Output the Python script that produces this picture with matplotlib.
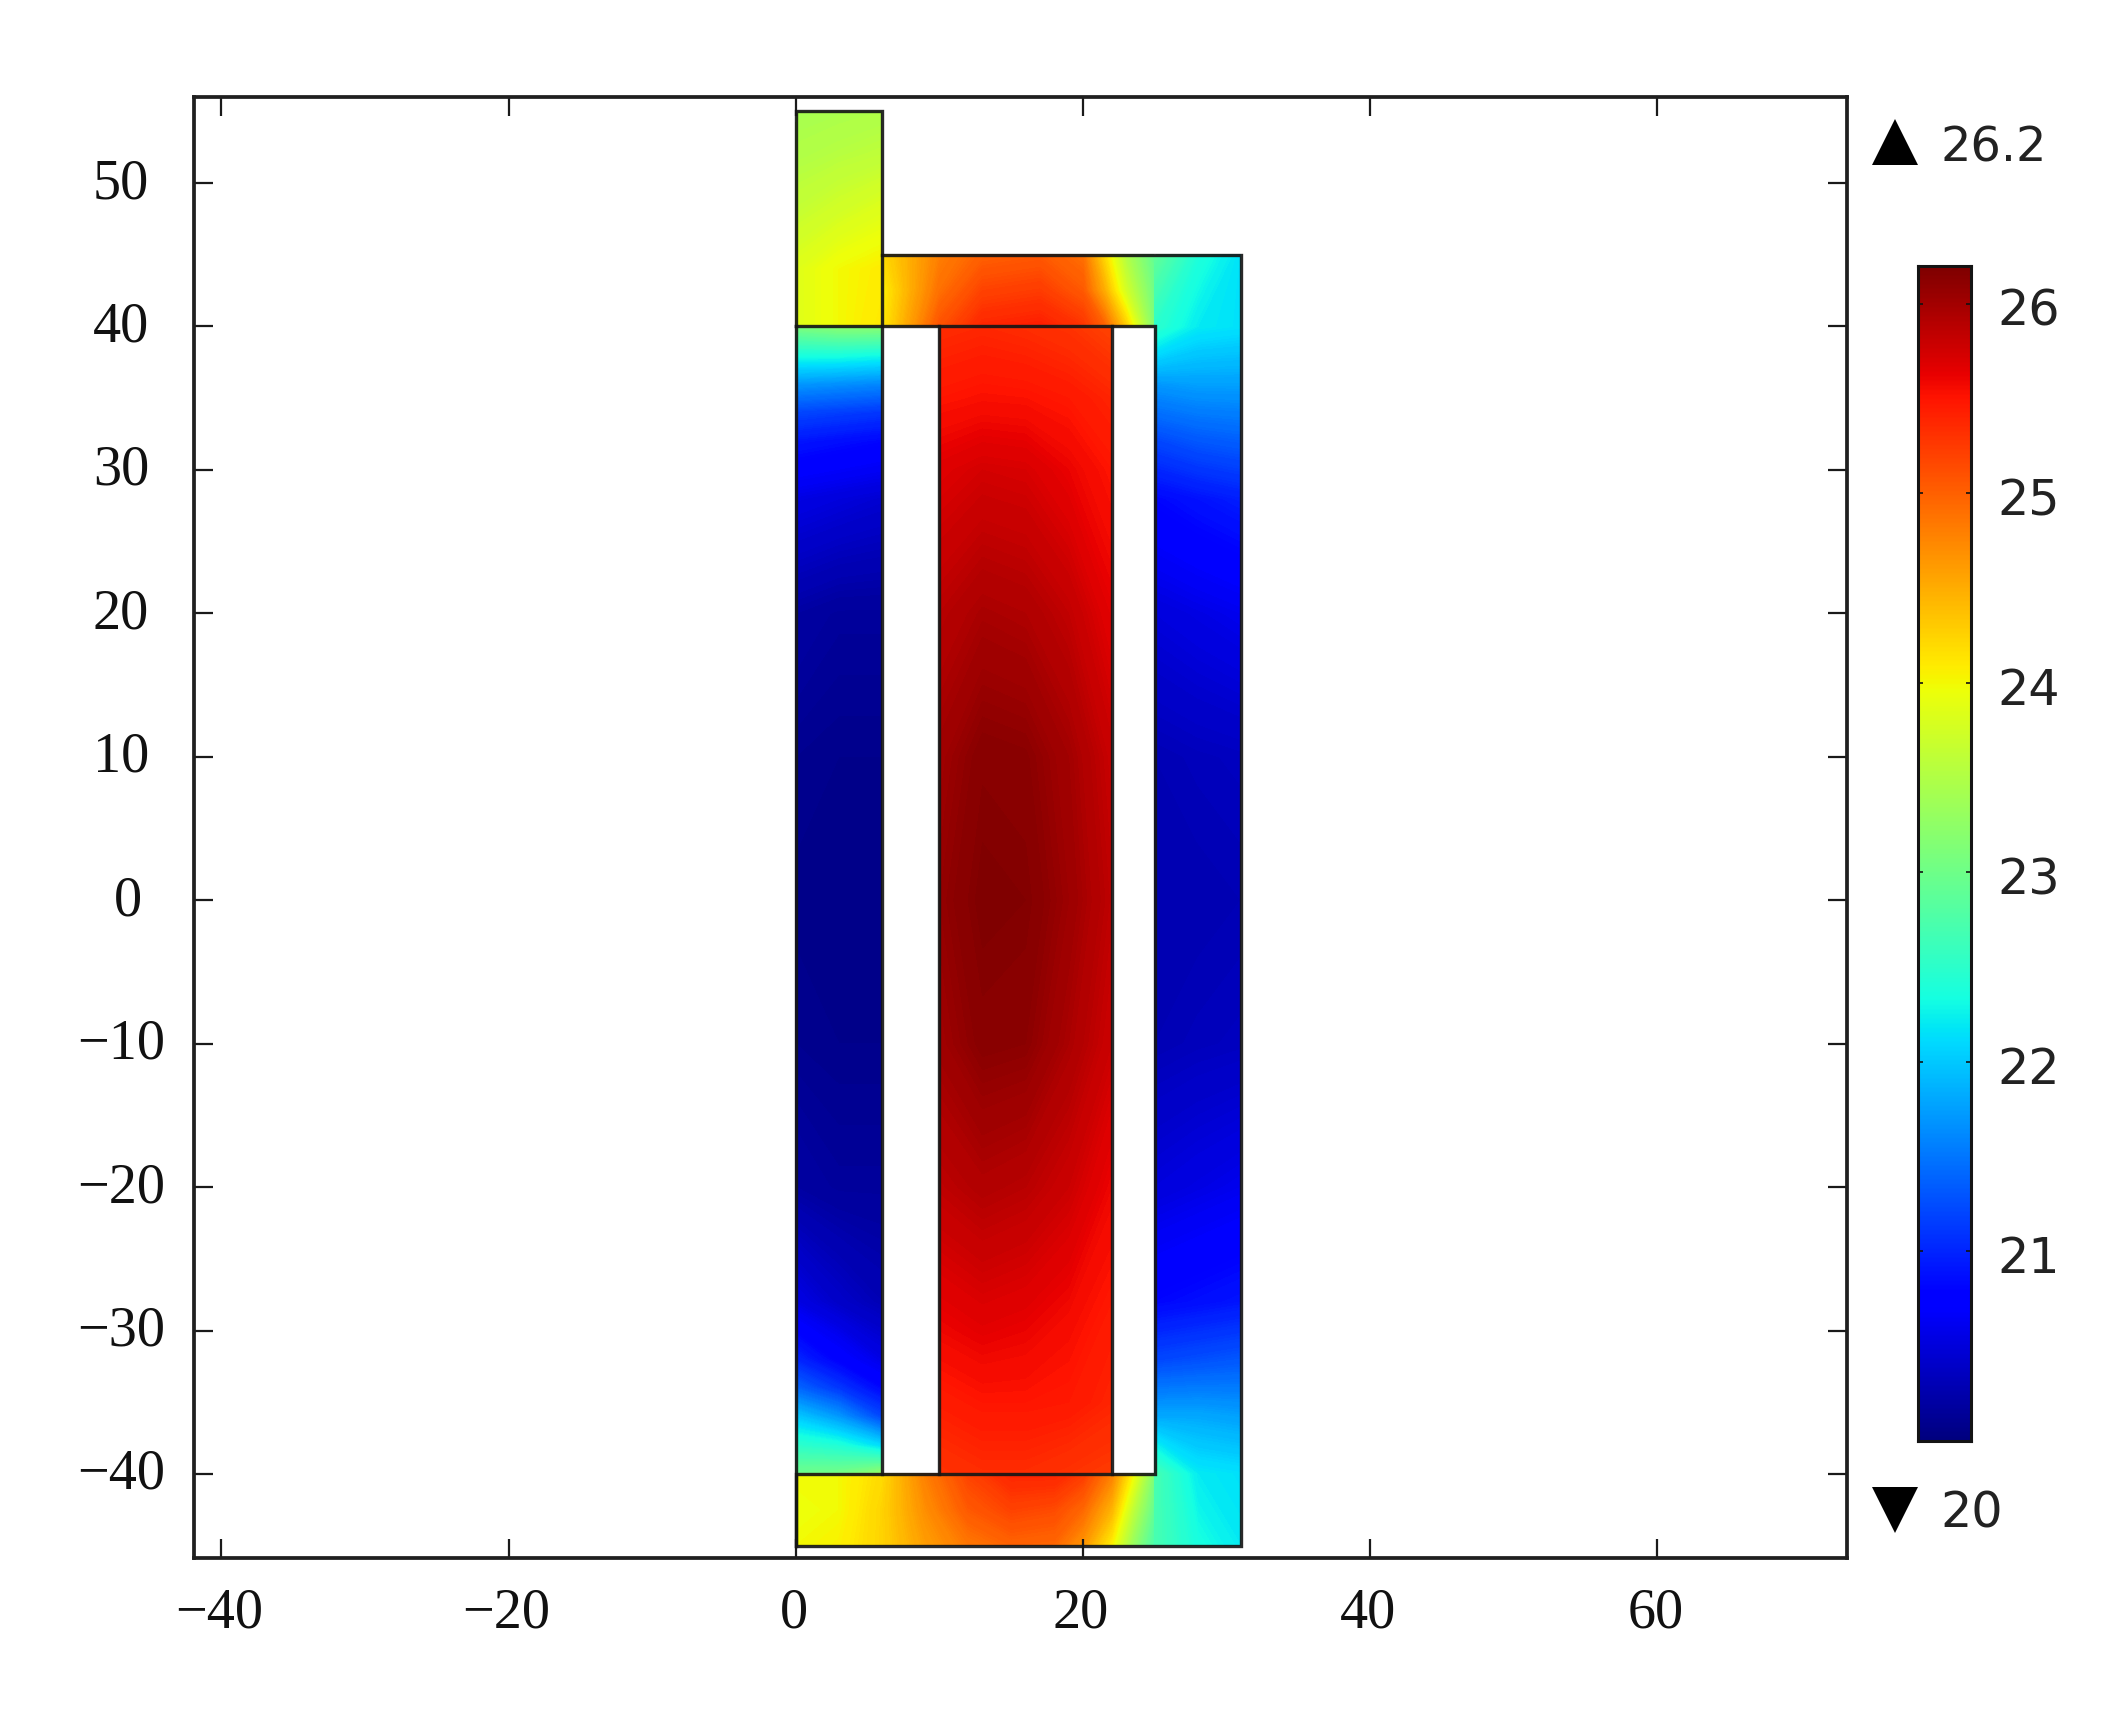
import numpy as np
import matplotlib
matplotlib.use("Agg")
import matplotlib.pyplot as plt
from matplotlib.lines import Line2D
from matplotlib.transforms import ScaledTranslation

W, H = 2114, 1725
VMIN, VMAX = 20.0, 26.2

x_ticks = [-40, -20, 0, 20, 40, 60]
y_ticks = [-40, -30, -20, -10, 0, 10, 20, 30, 40, 50]
cbar_ticks = [21, 22, 23, 24, 25, 26]

# pillar x 0..6, y 40..55
pillar_x = [0, 3, 6]
pillar_y = [40, 44, 48, 52, 55]
pillar_T = [[23.85, 24.0, 24.12],
            [23.85, 24.0, 24.08],
            [23.65, 23.75, 23.85],
            [23.5, 23.55, 23.6],
            [23.42, 23.45, 23.48]]

# left column x 0..6, y -40..40
lcol_x = [0, 3, 6]
lcol_y = [-40, -38, -36, -34, -32, -28, -20, -10, 0, 10, 20, 28, 32, 34, 36, 38, 40]
lcol_T = [[23.0, 23.05, 23.3],
          [22.5, 22.4, 22.1],
          [22.0, 21.7, 21.2],
          [21.4, 21.1, 20.8],
          [21.0, 20.75, 20.55],
          [20.55, 20.4, 20.3],
          [20.2, 20.15, 20.15],
          [20.1, 20.08, 20.08],
          [20.07, 20.05, 20.05],
          [20.1, 20.08, 20.08],
          [20.2, 20.15, 20.15],
          [20.55, 20.5, 20.45],
          [20.9, 20.85, 20.8],
          [21.2, 21.15, 21.1],
          [21.7, 21.65, 21.6],
          [22.35, 22.35, 22.3],
          [23.1, 23.2, 23.2]]

# centre coil x 10..22, y -40..40
core_x = [10, 13, 16, 19, 22]
core_y = [-40, -35, -30, -20, -10, 0, 10, 20, 30, 35, 40]
core_T = [[25.3, 25.35, 25.35, 25.3, 25.25],
          [25.45, 25.5, 25.5, 25.48, 25.4],
          [25.6, 25.65, 25.62, 25.55, 25.45],
          [25.85, 25.92, 25.88, 25.78, 25.6],
          [26.02, 26.14, 26.12, 25.96, 25.78],
          [26.08, 26.2, 26.18, 26.04, 25.85],
          [26.02, 26.15, 26.13, 26.0, 25.8],
          [25.88, 25.97, 25.94, 25.84, 25.65],
          [25.68, 25.74, 25.72, 25.62, 25.5],
          [25.5, 25.53, 25.52, 25.48, 25.4],
          [25.35, 25.38, 25.35, 25.3, 25.2]]

# top bar x 6..25, y 40..45
tbar_x = [6, 8, 10, 13, 17, 20, 21.5, 23, 25]
tbar_y = [40, 42.5, 45]
tbar_T = [[24.1, 24.6, 25.1, 25.4, 25.45, 25.3, 25.0, 24.3, 23.1],
          [24.05, 24.5, 24.9, 25.2, 25.25, 25.05, 24.5, 23.75, 23.0],
          [24.2, 24.5, 24.8, 25.0, 25.05, 24.9, 24.2, 23.5, 22.9]]

# bottom bar x 0..25, y -45..-40
bbar_x = [0, 3, 6, 9, 12, 15, 18, 20, 22, 23.5, 25]
bbar_y = [-45, -42.5, -40]
bbar_T = [[24.0, 24.05, 24.25, 24.6, 24.85, 24.98, 24.95, 24.65, 24.05, 23.3, 22.7],
          [23.95, 24.0, 24.25, 24.7, 25.05, 25.2, 25.15, 24.95, 24.45, 23.6, 22.9],
          [24.0, 24.0, 24.2, 24.8, 25.2, 25.4, 25.4, 25.25, 24.8, 24.0, 23.1]]

# right column x 25..31, y -45..45
rcol_x = [25, 28, 31]
rcol_y = [-45, -40, -36, -32, -28, -20, -10, 0, 10, 20, 28, 32, 36, 40, 45]
rcol_T = [[22.7, 22.35, 22.2],
          [22.7, 22.2, 22.15],
          [21.8, 21.8, 21.75],
          [21.2, 21.25, 21.3],
          [20.8, 20.85, 20.9],
          [20.5, 20.55, 20.6],
          [20.3, 20.33, 20.35],
          [20.27, 20.28, 20.3],
          [20.3, 20.33, 20.35],
          [20.5, 20.55, 20.6],
          [20.8, 20.88, 20.95],
          [21.2, 21.3, 21.35],
          [21.7, 21.75, 21.75],
          [22.5, 22.2, 22.15],
          [22.9, 22.4, 22.15]]

# geometry edges
edge_top_x = [0, 0, 6, 6, 31, 31, 0, 0]
edge_top_y = [40, 55, 55, 45, 45, -45, -45, 40]
edge_h40_x = [0, 25, 25, 0, 0]
edge_h40_y = [40, 40, -40, -40, -45]
edge_v6_x = [6, 6]
edge_v6_y = [45, -40]
edge_v10_x = [10, 10]
edge_v22_x = [22, 22]
edge_core_y = [40, -40]

plt.rcParams["font.family"] = ["Liberation Serif", "DejaVu Serif"]

fig = plt.figure(figsize=(W / 100, H / 100), dpi=100, facecolor="white")


def rect(x0, y0, x1, y1):
    return [x0 / W, 1 - y1 / H, (x1 - x0) / W, (y1 - y0) / H]


def shift(label, dx_px, dy_px):
    label.set_transform(label.get_transform()
                        + ScaledTranslation(dx_px / 100, dy_px / 100, fig.dpi_scale_trans))


ax = fig.add_axes(rect(194, 97, 1847, 1558))
levels = np.linspace(VMIN, VMAX, 311)
for xs, ys, zs in [(pillar_x, pillar_y, pillar_T),
                   (lcol_x, lcol_y, lcol_T),
                   (core_x, core_y, core_T),
                   (tbar_x, tbar_y, tbar_T),
                   (bbar_x, bbar_y, bbar_T),
                   (rcol_x, rcol_y, rcol_T)]:
    ax.contourf(xs, ys, zs, levels=levels, cmap="jet",
                vmin=VMIN, vmax=VMAX, extend="both")

line_kw = dict(color="#161616", lw=2.4, solid_joinstyle="miter", zorder=3, alpha=0.92)
ax.plot(edge_top_x, edge_top_y, **line_kw)
ax.plot(edge_h40_x, edge_h40_y, **line_kw)
ax.plot(edge_v6_x, edge_v6_y, **line_kw)
ax.plot(edge_v10_x, edge_core_y, **line_kw)
ax.plot(edge_v22_x, edge_core_y, **line_kw)

ax.set_xlim(-41.9, 73.2)
ax.set_ylim(-45.86, 56.0)
ax.set_xticks(x_ticks)
ax.set_yticks(y_ticks)
ax.set_xticklabels([str(v).replace("-", "\u2212") for v in x_ticks])
ax.set_yticklabels([str(v).replace("-", "\u2212") for v in y_ticks], ha="center")
ax.tick_params(axis="x", which="both", direction="in", top=True, bottom=True,
               length=13.5, width=1.6, color="#1a1a1a",
               labelsize=40.5, pad=21, labelcolor="#111111")
ax.tick_params(axis="y", which="both", direction="in", left=True, right=True,
               length=13.5, width=1.6, color="#1a1a1a",
               labelsize=40.5, pad=52.5, labelcolor="#111111")
for lab, v in zip(ax.get_yticklabels(), y_ticks):
    shift(lab, 7 if v == 0 else 0, 5)
for lab in ax.get_xticklabels():
    shift(lab, -2, 0)
for s in ax.spines.values():
    s.set_linewidth(2.7)
    s.set_color("#1f1f1f")
    s.set_zorder(5)

cax = fig.add_axes(rect(1918, 266, 1971, 1441))
cgrad = np.linspace(VMIN, VMAX, 512).reshape(-1, 1)
cax.imshow(cgrad, origin="lower", aspect="auto", cmap="jet", vmin=VMIN, vmax=VMAX,
           extent=[0, 1, VMIN, VMAX], interpolation="bilinear")
cax.set_xticks([])
cax.yaxis.tick_right()
cax.set_yticks(cbar_ticks)
cax.set_yticklabels([str(v) for v in cbar_ticks], family=["DejaVu Sans"])
cax.tick_params(axis="y", direction="in", left=True, right=True, length=3.5, width=1.2,
                color="#111111", labelsize=35.5, labelcolor="#222222", pad=19)
for lab in cax.get_yticklabels():
    shift(lab, 0, -3)
for s in cax.spines.values():
    s.set_linewidth(2.2)
    s.set_color("#141414")

fig.add_artist(Line2D([1895 / W], [1 - 142 / H], marker="^", ms=33, color="black",
                      mec="black", mew=0, ls="none", transform=fig.transFigure))
fig.add_artist(Line2D([1895 / W], [1 - 1510 / H], marker="v", ms=33, color="black",
                      mec="black", mew=0, ls="none", transform=fig.transFigure))
fig.text(1940 / W, 1 - 148 / H, "26.2", family=["DejaVu Sans"], fontsize=34.5,
         color="#222222", ha="left", va="center")
fig.text(1940 / W, 1 - 1514 / H, "20", family=["DejaVu Sans"], fontsize=35.5,
         color="#222222", ha="left", va="center")

fig.savefig("out.png", dpi=100, facecolor="white")
